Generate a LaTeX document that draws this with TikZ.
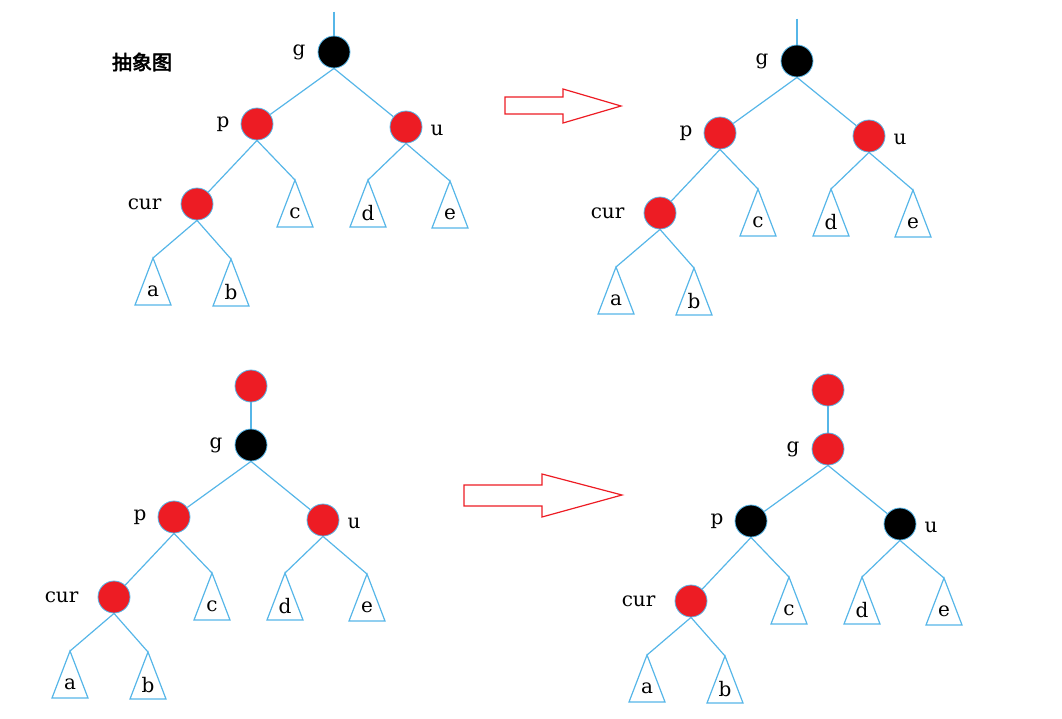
\documentclass[tikz,border=0pt]{standalone}
\usepackage{fontspec}
\setmainfont{DejaVu Serif}
\newfontfamily\cjk[AutoFakeBold=3]{Noto Sans CJK SC}
\usetikzlibrary{positioning}
\definecolor{treeblue}{RGB}{86,182,232}
\definecolor{paintred}{RGB}{237,28,36}
\tikzset{
  rbnode/.style={circle, draw=treeblue, line width=0.8pt, minimum size=32pt, inner sep=0pt},
  edge/.style={treeblue, line width=1.2pt},
  subtree/.style={treeblue, line width=1.2pt, line join=miter},
  lbl/.style={font=\fontsize{20}{22}\selectfont, inner sep=0pt},
  bigarrow/.style={paintred, line width=1.2pt, line join=miter},
}
\begin{document}
\begin{tikzpicture}[x=1pt,y=-1pt]
  \useasboundingbox (0,0) rectangle (1062,718);
  \node[font=\cjk\bfseries\fontsize{20}{22}\selectfont, inner sep=0pt] (title) at (142,62) {抽象图};
  % four copies of the same tree, only the colours change
  \foreach \t/\dx/\dy/\gc/\pc in {A/0/0/black/paintred, B/463/9/black/paintred,
                                  C/-83/393/black/paintred, D/494/397/paintred/black} {
    \begin{scope}[shift={(\dx,\dy)}]
      \node[rbnode, fill=\gc] (\t-g) at (334,52) {};
      \node[rbnode, fill=\pc] (\t-p) at (257,124) {};
      \node[rbnode, fill=\pc] (\t-u) at (406,127) {};
      \node[rbnode, fill=paintred] (\t-cur) at (197,204) {};
      \node[lbl, left=12pt of \t-g] (\t-gname) {g};
      \node[lbl, left=11pt of \t-p] (\t-pname) {p};
      \node[lbl, right=8pt of \t-u, yshift=-3pt] (\t-uname) {u};
      \node[lbl, left=19pt of \t-cur] (\t-curname) {cur};
      \foreach \s/\x/\y in {a/153/258, b/231/259, c/295/180, d/368/180, e/450/181} {
        \coordinate (\t-\s) at (\x,\y);
        \draw[subtree] (\t-\s) -- ++(18,47) -- ++(-36,0) -- cycle;
        \node[lbl] (\t-\s-name) at ([yshift=-33pt]\t-\s) {\s};
      }
      \draw[edge] (\t-g.south) -- (\t-p);
      \draw[edge] (\t-g.south) -- (\t-u);
      \draw[edge] (\t-p.south) -- (\t-cur);
      \draw[edge] (\t-p.south) -- (\t-c);
      \draw[edge] (\t-u.south) -- (\t-d);
      \draw[edge] (\t-u.south) -- (\t-e);
      \draw[edge] (\t-cur.south) -- (\t-a);
      \draw[edge] (\t-cur.south) -- (\t-b);
    \end{scope}
  }
  % what sits above g
  \coordinate (A-top) at ([yshift=24pt]A-g.north);
  \coordinate (B-top) at ([yshift=26pt]B-g.north);
  \draw[edge] (A-top) -- (A-g);
  \draw[edge] (B-top) -- (B-g);
  \node[rbnode, fill=paintred] (C-top) at ([yshift=59pt]C-g) {};
  \node[rbnode, fill=paintred] (D-top) at ([yshift=59pt]D-g) {};
  \draw[edge] (C-top) -- (C-g);
  \draw[edge] (D-top) -- (D-g);
  % arrows
  \draw[bigarrow] (505,97) -- (563,97) -- (563,89) -- (621,106) -- (563,123)
    -- (563,114) -- (505,114) -- cycle;
  \draw[bigarrow] (464,485) -- (542,485) -- (542,474) -- (622,495) -- (542,517)
    -- (542,506) -- (464,506) -- cycle;
\end{tikzpicture}
\end{document}
